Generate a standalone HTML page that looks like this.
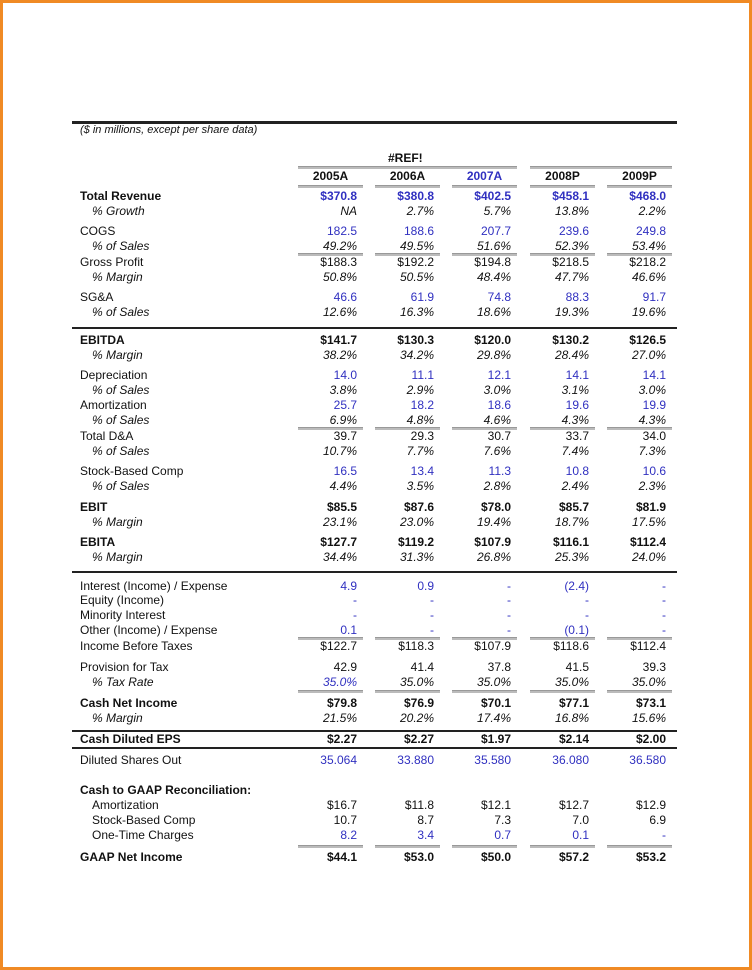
<!DOCTYPE html>
<html><head><meta charset="utf-8"><style>
html,body{margin:0;padding:0}
body{width:752px;height:970px;position:relative;background:#fff;font-family:"Liberation Sans",Arial,sans-serif;font-size:12px;color:#111;overflow:hidden}
#frame{position:absolute;left:0;top:0;width:746px;height:964px;border:3px solid #f08a24}
.t{position:absolute;white-space:nowrap;line-height:14px}
.r{text-align:right;width:90px}
.b{font-weight:bold}.i{font-style:italic}.bl{color:#3030c0}
.ln{position:absolute;background:#222}
.gl{position:absolute;height:2px;background:#bbb;border-top:1px solid #999}
</style></head><body>
<div id="frame"></div>
<div id="sheet"></div>
<script>
const colsRight=[357,434,511,589,666];
const segs=[[298,363],[375,440],[452,517],[530,595],[607,672]];
const rows=[
["Total Revenue",196,"b",0,["$370.8","$380.8","$402.5","$458.1","$468.0"],"11111"],
["% Growth",211,"i",1,["NA","2.7%","5.7%","13.8%","2.2%"],"00000"],
["COGS",231,"",0,["182.5","188.6","207.7","239.6","249.8"],"11111"],
["% of Sales",246,"i",1,["49.2%","49.5%","51.6%","52.3%","53.4%"],"00000"],
["Gross Profit",262,"",0,["$188.3","$192.2","$194.8","$218.5","$218.2"],"00000"],
["% Margin",277,"i",1,["50.8%","50.5%","48.4%","47.7%","46.6%"],"00000"],
["SG&A",297,"",0,["46.6","61.9","74.8","88.3","91.7"],"11111"],
["% of Sales",312,"i",1,["12.6%","16.3%","18.6%","19.3%","19.6%"],"00000"],
["EBITDA",340,"b",0,["$141.7","$130.3","$120.0","$130.2","$126.5"],"00000"],
["% Margin",355,"i",1,["38.2%","34.2%","29.8%","28.4%","27.0%"],"00000"],
["Depreciation",375,"",0,["14.0","11.1","12.1","14.1","14.1"],"11111"],
["% of Sales",390,"i",1,["3.8%","2.9%","3.0%","3.1%","3.0%"],"00000"],
["Amortization",405,"",0,["25.7","18.2","18.6","19.6","19.9"],"11111"],
["% of Sales",420,"i",1,["6.9%","4.8%","4.6%","4.3%","4.3%"],"00000"],
["Total D&A",436,"",0,["39.7","29.3","30.7","33.7","34.0"],"00000"],
["% of Sales",451,"i",1,["10.7%","7.7%","7.6%","7.4%","7.3%"],"00000"],
["Stock-Based Comp",471,"",0,["16.5","13.4","11.3","10.8","10.6"],"11111"],
["% of Sales",486,"i",1,["4.4%","3.5%","2.8%","2.4%","2.3%"],"00000"],
["EBIT",507,"b",0,["$85.5","$87.6","$78.0","$85.7","$81.9"],"00000"],
["% Margin",522,"i",1,["23.1%","23.0%","19.4%","18.7%","17.5%"],"00000"],
["EBITA",542,"b",0,["$127.7","$119.2","$107.9","$116.1","$112.4"],"00000"],
["% Margin",557,"i",1,["34.4%","31.3%","26.8%","25.3%","24.0%"],"00000"],
["Interest (Income) / Expense",586,"",0,["4.9","0.9","-","(2.4)","-"],"11111"],
["Equity (Income)",600,"",0,["-","-","-","-","-"],"11111"],
["Minority Interest",615,"",0,["-","-","-","-","-"],"11111"],
["Other (Income) / Expense",630,"",0,["0.1","-","-","(0.1)","-"],"11111"],
["Income Before Taxes",646,"",0,["$122.7","$118.3","$107.9","$118.6","$112.4"],"00000"],
["Provision for Tax",667,"",0,["42.9","41.4","37.8","41.5","39.3"],"00000"],
["% Tax Rate",682,"i",1,["35.0%","35.0%","35.0%","35.0%","35.0%"],"10000"],
["Cash Net Income",703,"b",0,["$79.8","$76.9","$70.1","$77.1","$73.1"],"00000"],
["% Margin",718,"i",1,["21.5%","20.2%","17.4%","16.8%","15.6%"],"00000"],
["Cash Diluted EPS",739,"b",0,["$2.27","$2.27","$1.97","$2.14","$2.00"],"00000"],
["Diluted Shares Out",760,"",0,["35.064","33.880","35.580","36.080","36.580"],"11111"],
["Cash to GAAP Reconciliation:",790,"b",0,[],""],
["Amortization",805,"",1,["$16.7","$11.8","$12.1","$12.7","$12.9"],"00000"],
["Stock-Based Comp",820,"",1,["10.7","8.7","7.3","7.0","6.9"],"00000"],
["One-Time Charges",835,"",1,["8.2","3.4","0.7","0.1","-"],"11111"],
["GAAP Net Income",857,"b",0,["$44.1","$53.0","$50.0","$57.2","$53.2"],"00000"]
];
const headers=["2005A","2006A","2007A","2008P","2009P"];
const grayLineYs=[167,186,254,428,638,691,846];
const blackLines=[[121,3],[327,2],[571,2],[730,2],[747,2]];
const sheet=document.getElementById('sheet');
function add(cls,txt,x,y){const d=document.createElement('div');d.className='t '+cls;d.textContent=txt;d.style.left=x+'px';d.style.top=(y-7)+'px';sheet.appendChild(d);return d;}
let e=add('i',"($ in millions, except per share data)",80,130);e.style.fontSize='11px';


e=add('b',"#REF!",388,158);


headers.forEach((h,i)=>{const c=(segs[i][0]+segs[i][1])/2;const d=add('b'+(i==2?' bl':''),h,c-40,176);d.style.width='80px';d.style.textAlign='center';

});
rows.forEach(r=>{const [lab,y,st,ind,vals,mask]=r;
const l=add(st,lab,ind?92:80,y);


vals.forEach((v,i)=>{const d=add('r '+st+(mask[i]=='1'?' bl':''),v,colsRight[i]-90,y);

});});
blackLines.forEach(b=>{const d=document.createElement('div');d.className='ln';d.style.left='72px';d.style.width='605px';d.style.top=b[0]+'px';d.style.height=b[1]+'px';


sheet.appendChild(d);});
grayLineYs.forEach(y=>{
 const ss=(y==167)?[[298,517],[530,672]]:segs;
 ss.forEach(s=>{const d=document.createElement('div');d.className='gl';d.style.left=s[0]+'px';d.style.width=(s[1]-s[0])+'px';d.style.top=(y-1)+'px';
 
 
 sheet.appendChild(d);});});
</script>
</body></html>
